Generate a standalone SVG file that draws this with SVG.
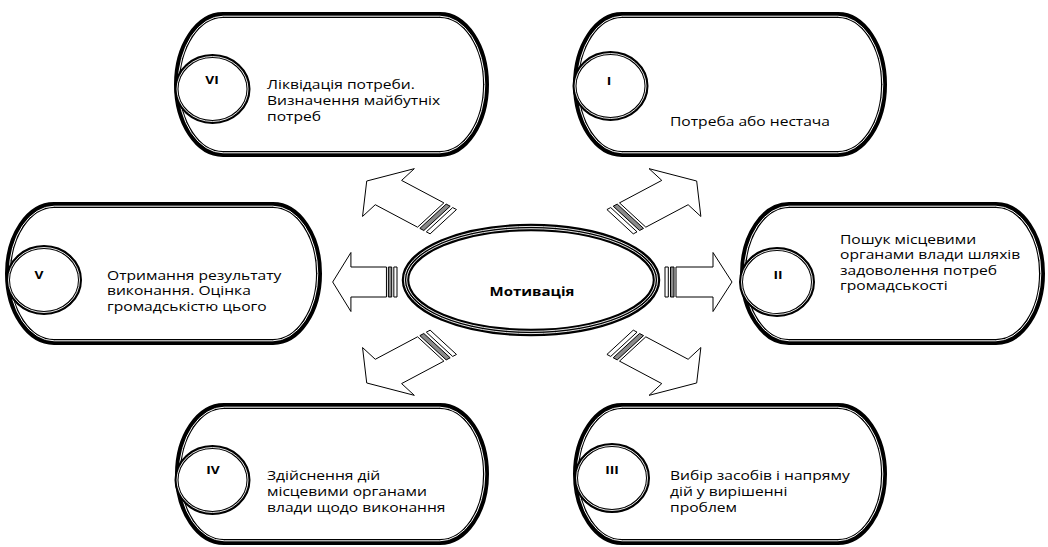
<svg xmlns="http://www.w3.org/2000/svg" width="1048" height="547" viewBox="0 0 1048 547">
<defs>
<style>
.nb{fill:#fff;stroke:#000;stroke-width:6}
.nw{fill:none;stroke:#fff;stroke-width:1}
.cb{fill:#fff;stroke:#000;stroke-width:4}
.cw{fill:none;stroke:#fff;stroke-width:0.9}
.t{font-family:"Open Sans","Noto Sans",sans-serif;font-size:12.5px;fill:#000}
.lb{font-family:"Open Sans","Noto Sans",sans-serif;font-size:11px;font-weight:bold;fill:#000;text-anchor:middle}
.ar{fill:#fff;stroke:#000;stroke-width:1;vector-effect:non-scaling-stroke}
.bg{fill:#8a8a8a;stroke:#000;stroke-width:1;vector-effect:non-scaling-stroke}
</style>
<g id="arrowShape">
<rect class="ar" x="0" y="-15" width="3.3" height="30"/>
<rect class="bg" x="5.5" y="-15" width="3.5" height="30"/>
<polygon class="ar" points="11,-15 48,-15 48,-29.5 67,0 48,29.5 48,15 11,15"/>
</g>
</defs>
<rect width="1048" height="547" fill="#fff"/>

<g id="node-VI">
<rect class="nb" x="177" y="15" width="309" height="139" rx="46" ry="69.5"/>
<rect class="nw" x="178.2" y="16.2" width="306.6" height="136.6" rx="45" ry="68.3"/>
<ellipse class="cb" cx="212.5" cy="89" rx="36" ry="33"/>
<ellipse class="cw" cx="212.5" cy="89" rx="35.5" ry="32.5"/>
<text class="lb" transform="matrix(1.25,0,0,1,212,0)" x="0" y="84">VI</text>
<text class="t" transform="matrix(1.25,0,0,1,267,0)"><tspan x="0" y="89">Ліквідація потреби.</tspan><tspan x="0" y="105">Визначення майбутніх</tspan><tspan x="0" y="121">потреб</tspan></text>
</g>

<g id="node-I">
<rect class="nb" x="576" y="15" width="308" height="139" rx="46" ry="69.5"/>
<rect class="nw" x="577.2" y="16.2" width="305.6" height="136.6" rx="45" ry="68.3"/>
<ellipse class="cb" cx="610.5" cy="86" rx="36" ry="33"/>
<ellipse class="cw" cx="610.5" cy="86" rx="35.5" ry="32.5"/>
<text class="lb" transform="matrix(1.25,0,0,1,609,0)" x="0" y="85">I</text>
<text class="t" transform="matrix(1.25,0,0,1,670,0)"><tspan x="0" y="126">Потреба або нестача</tspan></text>
</g>

<g id="node-V">
<rect class="nb" x="8" y="205" width="311" height="137" rx="46" ry="68.5"/>
<rect class="nw" x="9.2" y="206.2" width="308.6" height="134.6" rx="45" ry="67.3"/>
<ellipse class="cb" cx="44" cy="280" rx="36" ry="33"/>
<ellipse class="cw" cx="44" cy="280" rx="35.5" ry="32.5"/>
<text class="lb" transform="matrix(1.25,0,0,1,39,0)" x="0" y="279">V</text>
<text class="t" transform="matrix(1.25,0,0,1,107,0)"><tspan x="0" y="280">Отримання результату</tspan><tspan x="0" y="295.5">виконання. Оцінка</tspan><tspan x="0" y="311">громадськістю цього</tspan></text>
</g>

<g id="node-II">
<rect class="nb" x="743" y="205" width="299" height="137" rx="46" ry="68.5"/>
<rect class="nw" x="744.2" y="206.2" width="296.6" height="134.6" rx="45" ry="67.3"/>
<ellipse class="cb" cx="777" cy="282" rx="36" ry="33"/>
<ellipse class="cw" cx="777" cy="282" rx="35.5" ry="32.5"/>
<text class="lb" transform="matrix(1.25,0,0,1,778,0)" x="0" y="279">II</text>
<text class="t" transform="matrix(1.25,0,0,1,840,0)"><tspan x="0" y="244">Пошук місцевими</tspan><tspan x="0" y="259.5">органами влади шляхів</tspan><tspan x="0" y="275">задоволення потреб</tspan><tspan x="0" y="290.5">громадськості</tspan></text>
</g>

<g id="node-IV">
<rect class="nb" x="178" y="406" width="308" height="136" rx="46" ry="68"/>
<rect class="nw" x="179.2" y="407.2" width="305.6" height="133.6" rx="45" ry="66.8"/>
<ellipse class="cb" cx="212.5" cy="480" rx="36" ry="33"/>
<ellipse class="cw" cx="212.5" cy="480" rx="35.5" ry="32.5"/>
<text class="lb" transform="matrix(1.25,0,0,1,213,0)" x="0" y="474">IV</text>
<text class="t" transform="matrix(1.25,0,0,1,267,0)"><tspan x="0" y="480">Здійснення дій</tspan><tspan x="0" y="496">місцевими органами</tspan><tspan x="0" y="511.7">влади щодо виконання</tspan></text>
</g>

<g id="node-III">
<rect class="nb" x="576" y="406" width="308" height="136" rx="46" ry="68"/>
<rect class="nw" x="577.2" y="407.2" width="305.6" height="133.6" rx="45" ry="66.8"/>
<ellipse class="cb" cx="612" cy="478" rx="36" ry="33"/>
<ellipse class="cw" cx="612" cy="478" rx="35.5" ry="32.5"/>
<text class="lb" transform="matrix(1.25,0,0,1,612,0)" x="0" y="474">III</text>
<text class="t" transform="matrix(1.25,0,0,1,670,0)"><tspan x="0" y="480">Вибір засобів і напряму</tspan><tspan x="0" y="496">дій у вирішенні</tspan><tspan x="0" y="511.7">проблем</tspan></text>
</g>

<g id="connectors">
<use href="#arrowShape" transform="matrix(-0.96,0,0,1,397,282)"/>
<use href="#arrowShape" transform="matrix(1,0,0,1,665,282)"/>
<use href="#arrowShape" transform="matrix(-1.143,-0.607,0.878,-0.81,443.3,221.7)"/>
<use href="#arrowShape" transform="matrix(1.143,-0.607,-0.878,-0.81,620.1,221.7)"/>
<use href="#arrowShape" transform="matrix(-1.143,0.607,0.878,0.81,443.3,342.3)"/>
<use href="#arrowShape" transform="matrix(1.143,0.607,-0.878,0.81,620.1,342.3)"/>
</g>

<g id="node-center">
<ellipse cx="531" cy="280" rx="125.5" ry="52.5" fill="#fff" stroke="#000" stroke-width="7.5"/>
<ellipse cx="531" cy="280" rx="126.6" ry="53.6" fill="none" stroke="#fff" stroke-width="0.9"/>
<ellipse cx="531" cy="280" rx="124.3" ry="51.3" fill="none" stroke="#fff" stroke-width="0.9"/>
<text class="lb" style="font-size:12px" transform="matrix(1.25,0,0,1,532,0)" x="0" y="296">Мотивація</text>
</g>
</svg>
